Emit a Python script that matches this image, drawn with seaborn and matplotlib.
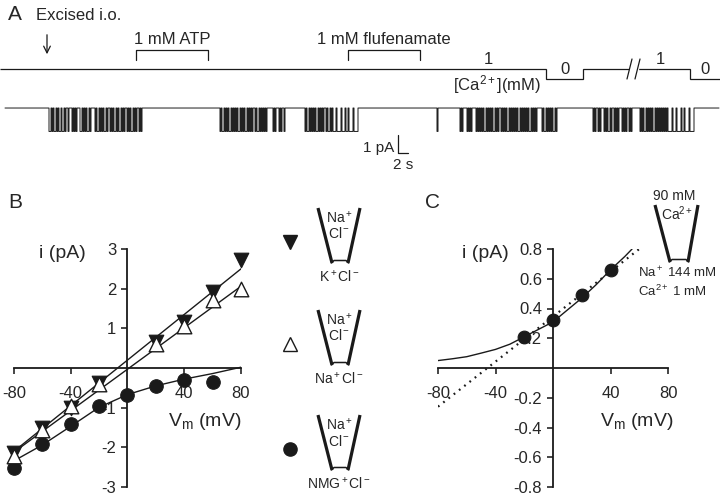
import numpy as np
import pandas as pd
import seaborn as sns
import matplotlib.pyplot as plt

# --- figure size in pixels ---
W, H = 720, 497

# --- A: protocol (times in s) ---
atp_on = (27.2, 41.6)
fluf_on = (69.6, 84.0)
ca_edges = [0.0, 109.2, 116.6, 138.0, 144.0]
ca_levels = [1, 0, 1, 0]
ca_break = (125.9, 127.5)

# --- A: single channel record, one char = BIN_S seconds, '#' = open ---
BIN_S = 0.2
T_END = 144.0
I_OPEN = -1.3  # pA
burst_starts = [9.8, 14.4, 16.0, 19.0, 25.4, 44.0, 54.6, 61.0,
                87.4, 92.0, 96.0, 108.4, 118.6, 128.0]
burst_patterns = [
    "##-#-##-#-##-##-#--#-",
    "#-#-#",
    "##-#-#-##-#-",
    "#-##-#-#-##-#--#-#-##-#-##-#-#",
    "#-#-##-#-#--#-#-",
    "#-##-#-#-##-#-#-#-##-#-#-##-#-#-#--#-##-#-#-#-#",
    "#-#---#-#--#",
    "#-##-#-#-#-##-#-#-#--#-##-#-###-####-###-##-####-####",
    "#",
    "#-#----#-#-#----#-#-",
    "#-#-##-#-#-#-##-#-#--#-#-#-##-#-#-#-#-##-#-#-#-#-##-#-#-#",
    "#-##-#-#-#-##-#",
    "#-#--#-#---#-#-##-#--#-#-#---#-#-#--#-#-",
    "#-#-##-#-#-#-##-#-#-#-#-#-#-####-###-####-##-####-####",
]

# --- B: i-V, pipette Na+Cl-, bath K+ / Na+ / NMG+ ---
v_b = [-80, -60, -40, -20, 20, 40, 60, 80]
i_k = [-2.14, -1.51, -1.0, -0.39, 0.66, 1.17, 1.92, 2.73]
i_na = [-2.22, -1.57, -0.96, -0.41, 0.61, 1.06, 1.71, 1.99]
v_nmg = [-80, -60, -40, -20, 0, 20, 40, 60]
i_nmg = [-2.52, -1.91, -1.42, -0.96, -0.68, -0.45, -0.29, -0.35]
fit_v = [-80, 80]
fit_k = [-2.1, 2.5]
fit_na = [-2.12, 2.06]
fit_nmg_v = [-80, -60, -40, -20, 0, 20, 40, 60, 80]
fit_nmg_i = [-2.34, -1.94, -1.47, -0.99, -0.67, -0.45, -0.28, -0.14, 0.02]

# --- C: 90 mM Ca2+ pipette ---
v_c = [-20, 0, 20, 40]
i_c = [0.21, 0.32, 0.49, 0.66]
ghk_v = [-80, -70, -60, -50, -40, -30, -20, -10, 0, 10, 20, 30, 40, 50, 55]
ghk_i = [0.05, 0.062, 0.076, 0.10, 0.125, 0.16, 0.21, 0.26, 0.31, 0.39,
         0.47, 0.56, 0.66, 0.75, 0.80]
lin_v = [-80, 60]
lin_i = [-0.26, 0.80]

sns.set_theme(style="white")
plt.rcParams['font.family'] = ['Liberation Sans', 'DejaVu Sans']
plt.rcParams['mathtext.fontset'] = 'custom'
plt.rcParams['mathtext.rm'] = 'Liberation Sans'
plt.rcParams['mathtext.it'] = 'Liberation Sans:italic'
plt.rcParams['mathtext.default'] = 'regular'
plt.rcParams['axes.unicode_minus'] = False

fig = plt.figure(figsize=(W / 100, H / 100), dpi=100)


def px_axes(x0, y0, x1, y1):
    ax = fig.add_axes([x0 / W, 1 - y1 / H, (x1 - x0) / W, (y1 - y0) / H])
    ax.set_facecolor('none')
    return ax


# ---------------- panel A ----------------
ax_sol = px_axes(0, 0, 720, 95)
ax_sol.set_xlim(0, T_END)
ax_sol.set_ylim(-1.6, 7.9)
ax_sol.axis('off')

ax_sol.stairs(ca_levels, ca_edges, baseline=None, color='k', lw=0.9)
ax_sol.fill_between(ca_break, 0.6, 1.4, color='white', zorder=3)
for x0 in (ca_break[0] - 0.5, ca_break[1] - 0.5):
    ax_sol.plot([x0, x0 + 1.0], [0, 2.0], color='k', lw=0.9, zorder=4)

for (t0, t1), lab in [(atp_on, '1 mM ATP'), (fluf_on, '1 mM flufenamate')]:
    ax_sol.plot([t0, t0, t1, t1], [1.9, 2.9, 2.9, 1.9], color='k', lw=0.9)
    ax_sol.text((t0 + t1) / 2, 3.9, lab, ha='center', va='center', fontsize=12)

ax_sol.text(1.6, 6.5, 'A', ha='left', va='center', fontsize=15)
ax_sol.text(7.2, 6.4, 'Excised i.o.', ha='left', va='center', fontsize=12)
ax_sol.annotate('', xy=(9.4, 2.2), xytext=(9.4, 4.7),
                arrowprops=dict(arrowstyle='->', lw=0.9, color='k'))
ax_sol.text(97.6, 2.0, '1', ha='center', va='center', fontsize=12)
ax_sol.text(113.0, 0.9, '0', ha='center', va='center', fontsize=12)
ax_sol.text(132.0, 2.0, '1', ha='center', va='center', fontsize=12)
ax_sol.text(141.0, 0.9, '0', ha='center', va='center', fontsize=12)
ax_sol.text(99.4, -0.6, '[Ca$^{2+}$](mM)', ha='center', va='center', fontsize=12)

ax_tr = px_axes(0, 90, 720, 170)
ax_tr.set_xlim(0, T_END)
ax_tr.set_ylim(-3.44, 1.0)
ax_tr.axis('off')

n_bins = int(round(T_END / BIN_S))
state = np.zeros(n_bins)
for s, pat in zip(burst_starts, burst_patterns):
    i0 = int(round(s / BIN_S))
    for k, ch in enumerate(pat):
        if ch == '#' and i0 + k < n_bins:
            state[i0 + k] = 1
t = np.arange(n_bins) * BIN_S
trace = pd.DataFrame({'t': t, 'i': state * I_OPEN})
trace = trace[trace['t'] >= 1.0]
sns.lineplot(data=trace, x='t', y='i', estimator=None, drawstyle='steps-post',
             color='k', lw=0.7, ax=ax_tr)

# scale bar 1 pA / 2 s
ax_tr.plot([79.6, 79.6, 81.6], [-1.5, -2.5, -2.5], color='k', lw=0.9)
ax_tr.text(78.9, -2.2, '1 pA', ha='right', va='center', fontsize=11)
ax_tr.text(80.6, -3.15, '2 s', ha='center', va='center', fontsize=11)
ax_tr.set_xlabel('')
ax_tr.set_ylabel('')


def cross_axes(ax, xt, yt, ylab):
    sns.despine(ax=ax)
    ax.spines['left'].set_position(('data', 0))
    ax.spines['bottom'].set_position(('data', 0))
    for sp in ('left', 'bottom'):
        ax.spines[sp].set_linewidth(1.3)
        ax.spines[sp].set_color('k')
    ax.set_xticks(xt)
    ax.set_xticklabels([f'{v:g}' for v in xt])
    ax.set_yticks(yt)
    ax.set_yticklabels(ylab)
    ax.tick_params(axis='x', direction='out', length=4, width=1.2, pad=9,
                   labelsize=12, bottom=True)
    ax.tick_params(axis='y', direction='out', length=4, width=1.2, pad=4,
                   labelsize=12, left=True)
    ax.set_xlabel('')
    ax.set_ylabel('')


# ---------------- panel B ----------------
axB = px_axes(14, 249, 241, 487)
sns.lineplot(x=fit_v, y=fit_k, color='k', lw=1.0, ax=axB)
sns.lineplot(x=fit_v, y=fit_na, color='k', lw=1.0, ax=axB)
sns.lineplot(x=fit_nmg_v, y=fit_nmg_i, color='k', lw=1.0, ax=axB)
sns.scatterplot(x=v_nmg, y=i_nmg, marker='o', s=95, color='k', edgecolor='k',
                clip_on=False, zorder=5, ax=axB)
sns.scatterplot(x=v_b, y=i_k, marker='v', s=110, color='k', edgecolor='k',
                clip_on=False, zorder=5, ax=axB)
sns.scatterplot(x=v_b, y=i_na, marker='^', s=110, color='white', edgecolor='k',
                linewidth=1.0, clip_on=False, zorder=6, ax=axB)
axB.set_xlim(-80, 80)
axB.set_ylim(-3, 3)
cross_axes(axB, [-80, -40, 40, 80], [-3, -2, -1, 1, 2, 3],
           ['-3', '-2', '-1', '1', '2', '3'])

# ---------------- panel C ----------------
axC = px_axes(438, 249, 668, 487)
sns.lineplot(x=ghk_v, y=ghk_i, color='k', lw=1.0, ax=axC)
sns.lineplot(x=lin_v, y=lin_i, color='k', lw=1.6, ax=axC)
axC.lines[-1].set_linestyle((0, (0.8, 2.2)))
sns.scatterplot(x=v_c, y=i_c, marker='o', s=85, color='k', edgecolor='k',
                clip_on=False, zorder=5, ax=axC)
axC.set_xlim(-80, 80)
axC.set_ylim(-0.8, 0.8)
yc = [-0.8, -0.6, -0.4, -0.2, 0.2, 0.4, 0.6, 0.8]
cross_axes(axC, [-80, -40, 40, 80], yc, [f'{v:.1f}' for v in yc])

# ---------------- overlay (labels, pipettes) ----------------
ov = px_axes(0, 0, 720, 497)
ov.set_xlim(0, W)
ov.set_ylim(H, 0)
ov.axis('off')

ov.text(8, 203, 'B', ha='left', va='center', fontsize=15)
ov.text(425, 203, 'C', ha='left', va='center', fontsize=15)
ov.text(62, 253, 'i (pA)', ha='center', va='center', fontsize=14)
ov.text(205, 421, 'V$_m$ (mV)', ha='center', va='center', fontsize=14)
ov.text(485, 253, 'i (pA)', ha='center', va='center', fontsize=14)
ov.text(637, 421, 'V$_m$ (mV)', ha='center', va='center', fontsize=14)


def pipette(xl_top, xl_bot, xr_bot, xr_top, y_top, y_bot):
    ov.plot([xl_top, xl_bot], [y_top, y_bot], color='k', lw=2.3,
            solid_capstyle='butt')
    ov.plot([xr_top, xr_bot], [y_top, y_bot], color='k', lw=2.3,
            solid_capstyle='butt')
    ov.plot([xl_bot - 0.5, xl_bot + 2, xr_bot - 2, xr_bot + 0.5],
            [y_bot, y_bot - 2.5, y_bot - 2.5, y_bot], color='k', lw=1.1)


for y_top, bath, mk in [(208, 'K$^+$Cl$^-$', 'v'), (310, 'Na$^+$Cl$^-$', '^'),
                        (415, 'NMG$^+$Cl$^-$', 'o')]:
    pipette(318, 332, 348, 360, y_top, y_top + 55)
    ov.text(339, y_top + 10, 'Na$^+$', ha='center', va='center', fontsize=10)
    ov.text(339, y_top + 26, 'Cl$^-$', ha='center', va='center', fontsize=10)
    ov.text(339, y_top + 69, bath, ha='center', va='center', fontsize=10)
    face = 'white' if mk == '^' else 'k'
    ov.plot([290], [y_top + 34], marker=mk, ms=10 if mk != 'o' else 9.5,
            mfc=face, mec='k', mew=1.0, ls='none')

pipette(655, 670, 688, 698, 205, 262)
ov.text(674, 196, '90 mM', ha='center', va='center', fontsize=10)
ov.text(677, 214, 'Ca$^{2+}$', ha='center', va='center', fontsize=10)
ov.text(716, 273, 'Na$^+$ 144 mM', ha='right', va='center', fontsize=9.5)
ov.text(638, 291, 'Ca$^{2+}$ 1 mM', ha='left', va='center', fontsize=9.5)

fig.savefig('out.png', dpi=100)
